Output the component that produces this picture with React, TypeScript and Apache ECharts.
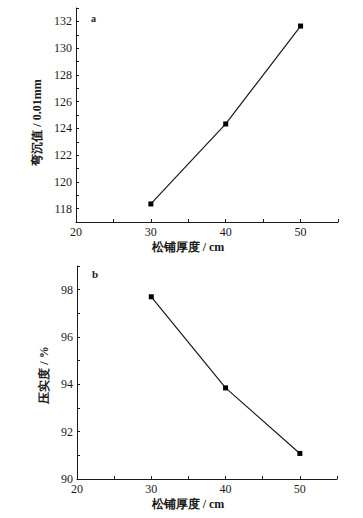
import React, { useEffect, useRef } from "react";
import * as echarts from "echarts";

const xValues = [30, 40, 50];
const deflection = [118.35, 124.33, 131.65];
const compaction = [97.7, 93.85, 91.08];
const xName = "松铺厚度 / cm";
const yNameTop = "弯沉值 / 0.01mm";
const yNameBottom = "压实度 / %";
const panelLabels = ["a", "b"];

const FONT = "Liberation Serif";
const INK = "#1a1a1a";

function axisCommon() {
  return {
    axisLine: { show: true, onZero: false, lineStyle: { color: INK, width: 1 } },
    axisTick: { show: true, inside: true, length: 3, lineStyle: { color: INK, width: 1 } },
    splitLine: { show: false },
    axisLabel: { color: INK, fontFamily: FONT, fontSize: 12, margin: 4 },
    nameTextStyle: { color: INK, fontFamily: FONT, fontSize: 12, fontWeight: "bold" },
  };
}

export default function App() {
  const ref = useRef<HTMLDivElement>(null);
  useEffect(() => {
    document.body.style.margin = "0";
    const chart = echarts.init(ref.current!, null, { renderer: "svg" });
    const c = axisCommon();
    const xAxisFor = (gridIndex: number) => ({
      type: "value",
      gridIndex,
      min: 20,
      max: 55,
      interval: 5,
      name: xName,
      nameLocation: "middle",
      nameGap: 19,
      ...c,
      nameTextStyle: { ...c.nameTextStyle, padding: [0, 38, 0, 0] },
      axisLabel: {
        ...c.axisLabel,
        margin: 4,
        formatter: (v: number) => (v % 10 === 0 ? String(v) : ""),
      },
    });
    chart.setOption({
      animation: false,
      backgroundColor: "#fff",
      grid: [
        { left: 76, top: 8, width: 262, height: 214 },
        { left: 77, top: 266, width: 260, height: 213 },
      ],
      xAxis: [xAxisFor(0), xAxisFor(1)],
      yAxis: [
        {
          type: "value",
          gridIndex: 0,
          min: 117,
          max: 133,
          interval: 1,
          name: yNameTop,
          nameLocation: "middle",
          nameGap: 23,
          ...c,
          nameTextStyle: { ...c.nameTextStyle, padding: [0, 15, 0, 0] },
          axisLabel: {
            ...c.axisLabel,
            formatter: (v: number) => (v % 2 === 0 ? String(v) : ""),
          },
        },
        {
          type: "value",
          gridIndex: 1,
          min: 90,
          max: 99,
          interval: 1,
          name: yNameBottom,
          nameLocation: "middle",
          nameGap: 21,
          ...c,
          nameTextStyle: { ...c.nameTextStyle, padding: [0, 5, 0, 0] },
          axisLabel: {
            ...c.axisLabel,
            formatter: (v: number) => (v % 2 === 0 ? String(v) : ""),
          },
        },
      ],
      series: [
        {
          type: "line",
          xAxisIndex: 0,
          yAxisIndex: 0,
          data: xValues.map((x, i) => [x, deflection[i]]),
          symbol: "rect",
          symbolSize: 5,
          lineStyle: { color: INK, width: 1.2 },
          itemStyle: { color: "#000" },
        },
        {
          type: "line",
          xAxisIndex: 1,
          yAxisIndex: 1,
          data: xValues.map((x, i) => [x, compaction[i]]),
          symbol: "rect",
          symbolSize: 5,
          lineStyle: { color: INK, width: 1.2 },
          itemStyle: { color: "#000" },
        },
      ],
      graphic: [
        {
          type: "text",
          x: 93.5,
          y: 18,
          style: {
            text: panelLabels[0],
            fill: INK,
            fontFamily: FONT,
            fontSize: 10,
            fontWeight: "bold",
            align: "center",
            verticalAlign: "middle",
          },
        },
        {
          type: "text",
          x: 95,
          y: 274,
          style: {
            text: panelLabels[1],
            fill: INK,
            fontFamily: FONT,
            fontSize: 11,
            fontWeight: "bold",
            align: "center",
            verticalAlign: "middle",
          },
        },
      ],
    });
    return () => chart.dispose();
  }, []);
  return <div ref={ref} style={{ width: 363, height: 518 }} />;
}
